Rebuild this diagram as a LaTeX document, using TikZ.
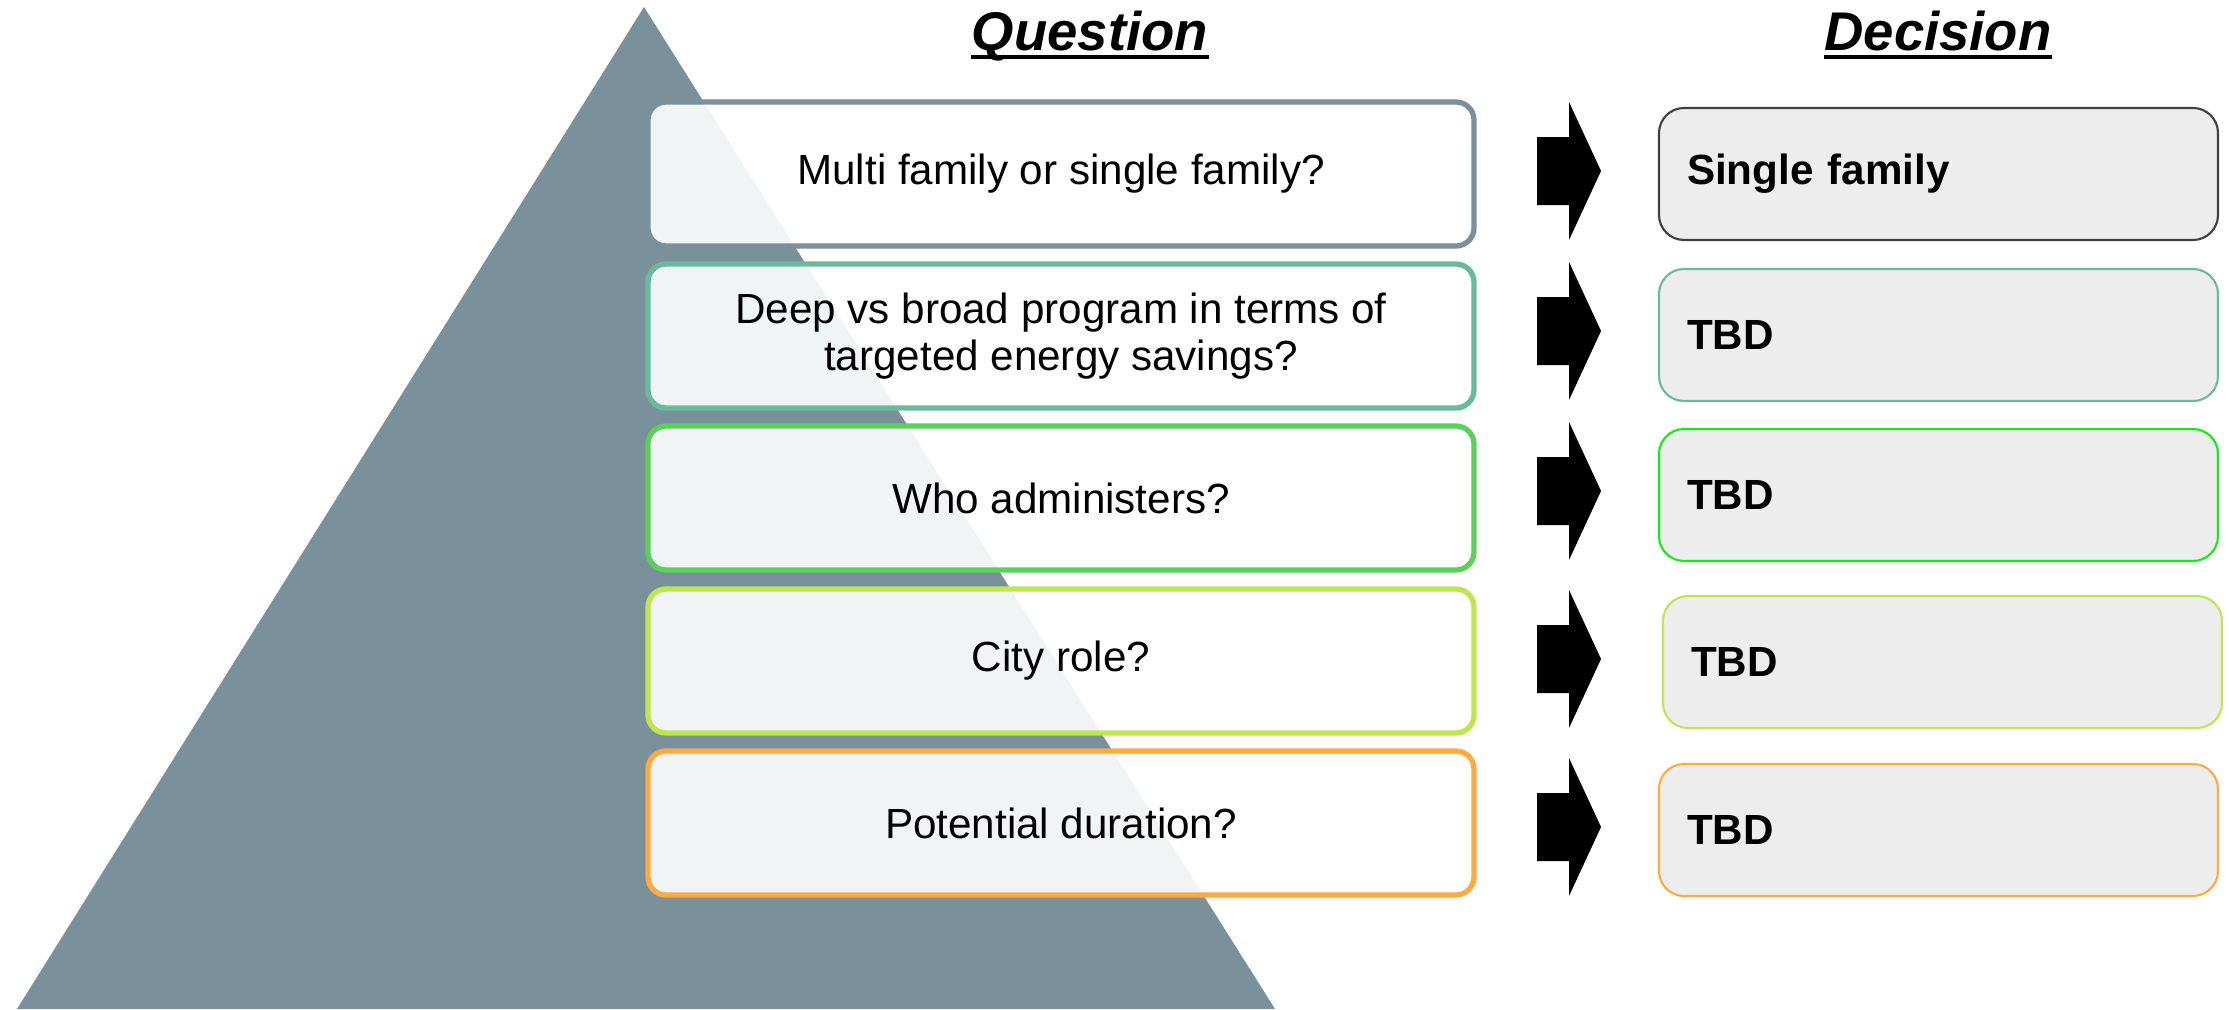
\documentclass[tikz,border=0pt]{standalone}
\usepackage{fontspec}
\setmainfont{Liberation Sans}

\definecolor{pyramid}{RGB}{122,144,154}
\definecolor{lvlone}{RGB}{122,144,154}
\definecolor{lvltwo}{RGB}{104,186,156}
\definecolor{lvlthree}{RGB}{90,208,90}
\definecolor{lvlfour}{RGB}{190,230,78}
\definecolor{lvlfive}{RGB}{255,169,66}
\definecolor{decfill}{RGB}{237,237,237}
\definecolor{decgreen}{RGB}{20,235,20}

\begin{document}
\begin{tikzpicture}[
        question/.style={draw, line width=1.5pt, rounded corners=0.18cm, fill=white, fill opacity=0.9, text opacity=1,
            minimum width=8.26cm, minimum height=1.44cm, align=center, font=\fontsize{12}{13.5}\selectfont},
        decision/.style={draw, line width=0.6pt, rounded corners=0.25cm, fill=decfill, minimum height=1.32cm,
            text width=5.03cm, inner xsep=0.28cm, align=left, font=\bfseries\fontsize{12}{14}\selectfont},
        title/.style={inner sep=0pt, anchor=base, font=\bfseries\itshape\fontsize{15.5}{18}\selectfont}
    ]
        \useasboundingbox (0,0) rectangle (22.29,10.09);

        % pyramid behind the questions
        \fill[pyramid] (0.17,0) -- (6.44,10.02) -- (12.75,0) -- cycle;

        % headings
        \node[title] (qtitle) at (10.90,9.59) {Question};
        \node[title] (dtitle) at (19.38,9.59) {Decision};
        \draw[line width=1.1pt] ([yshift=-0.07cm]qtitle.base west) -- ([yshift=-0.07cm]qtitle.base east);
        \draw[line width=1.1pt] ([yshift=-0.07cm]dtitle.base west) -- ([yshift=-0.07cm]dtitle.base east);

        % questions
        \node[question, draw=lvlone] (q1) at (10.61,8.35) {Multi family or single family?};
        \node[question, draw=lvltwo] (q2) at (10.61,6.73) {Deep vs broad program in terms of\\targeted energy savings?};
        \node[question, draw=lvlthree] (q3) at (10.61,5.11) {Who administers?};
        \node[question, draw=lvlfour] (q4) at (10.61,3.48) {City role?};
        \node[question, draw=lvlfive] (q5) at (10.61,1.86) {Potential duration?};

        % block arrows
        \fill[black, shift={(0,8.38)}] (15.37,-0.34) -- (15.69,-0.34) -- (15.69,-0.69) -- (16.01,0) -- (15.69,0.69) -- (15.69,0.34) -- (15.37,0.34) -- cycle;
        \fill[black, shift={(0,6.78)}] (15.37,-0.34) -- (15.69,-0.34) -- (15.69,-0.69) -- (16.01,0) -- (15.69,0.69) -- (15.69,0.34) -- (15.37,0.34) -- cycle;
        \fill[black, shift={(0,5.18)}] (15.37,-0.34) -- (15.69,-0.34) -- (15.69,-0.69) -- (16.01,0) -- (15.69,0.69) -- (15.69,0.34) -- (15.37,0.34) -- cycle;
        \fill[black, shift={(0,3.50)}] (15.37,-0.34) -- (15.69,-0.34) -- (15.69,-0.69) -- (16.01,0) -- (15.69,0.69) -- (15.69,0.34) -- (15.37,0.34) -- cycle;
        \fill[black, shift={(0,1.82)}] (15.37,-0.34) -- (15.69,-0.34) -- (15.69,-0.69) -- (16.01,0) -- (15.69,0.69) -- (15.69,0.34) -- (15.37,0.34) -- cycle;

        % decisions
        \node[decision, draw=black!75] (d1) at (19.385,8.35) {Single family};
        \node[decision, draw=lvltwo] (d2) at (19.385,6.74) {TBD};
        \node[decision, draw=decgreen] (d3) at (19.385,5.14) {TBD};
        \node[decision, draw=lvlfour] (d4) at (19.425,3.47) {TBD};
        \node[decision, draw=lvlfive] (d5) at (19.385,1.79) {TBD};
    \end{tikzpicture}
\end{document}
